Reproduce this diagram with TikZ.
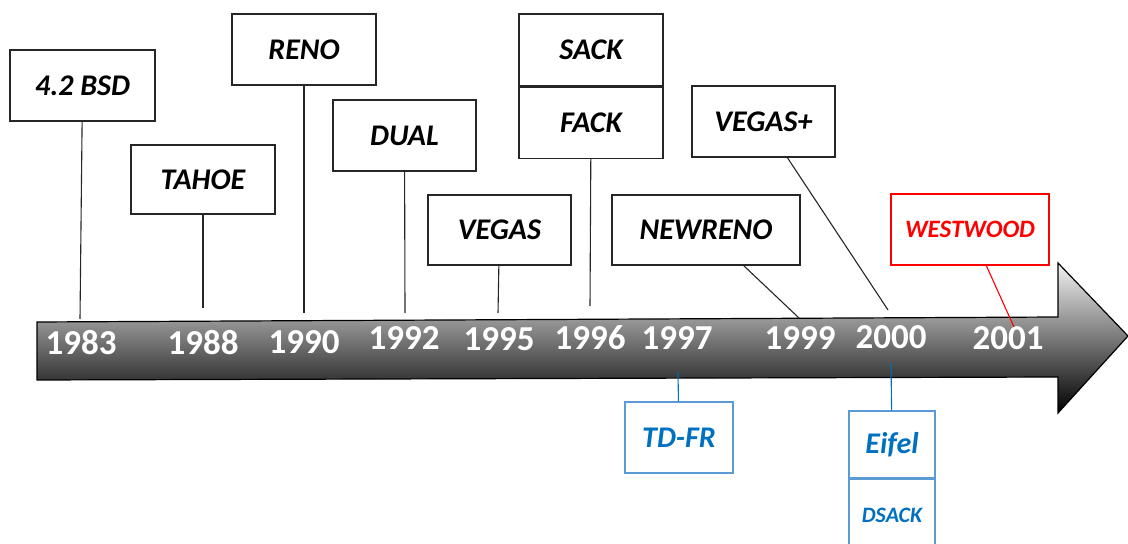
\documentclass[tikz,border=0pt]{standalone}
\usepackage{fontspec}
\setmainfont{Carlito}
\usepackage{tikz}
\usetikzlibrary{positioning}
\definecolor{tcpblue}{HTML}{0070C0}
\definecolor{tcpblueline}{HTML}{5B9BD5}

\begin{document}
\begin{tikzpicture}[x=0.5pt,y=-0.5pt,
  box/.style={draw=black!85,line width=0.6pt,fill=white,inner sep=0pt,
    font=\fontsize{15}{17}\selectfont\bfseries\itshape},
  bluebox/.style={box,draw=tcpblueline,text=tcpblue},
  redbox/.style={box,draw=red,text=red,font=\fontsize{12.5}{14}\selectfont\bfseries\itshape},
  year/.style={text=white,inner sep=0pt,font=\fontsize{17.5}{20}\selectfont\bfseries},
  link/.style={draw=black!85,line width=0.55pt}]
\useasboundingbox (0,0) rectangle (1128,544);
\clip (0,0) rectangle (1128,544);
% the time axis
\shade[top color=gray!10,bottom color=black,draw=black,line width=0.6pt]
 (37,322)--(1058,317)--(1058,263)--(1128,336)--(1058,413)--(1058,377)--(37,380)--cycle;
\node[year] (y83) at (81,343) {1983};
\node[year] (y88) at (203,343) {1988};
\node[year] (y90) at (304,342) {1990};
\node[year] (y92) at (404,338) {1992};
\node[year] (y95) at (499,339) {1995};
\node[year] (y96) at (590,338) {1996};
\node[year] (y97) at (677,338) {1997};
\node[year] (y99) at (800,338) {1999};
\node[year] (y00) at (891,337) {2000};
\node[year] (y01) at (1008,338) {2001};
\coordinate (c83) at (80,319);
\coordinate (c88) at (203,308);
\coordinate (c90) at (304,313);
\coordinate (c92) at (405,313);
\coordinate (c95) at (498,313);
\coordinate (c96) at (590,306);
\coordinate (c97) at (678,372);
\coordinate (c99) at (799,318);
\coordinate (c00) at (888,310);
\coordinate (c00b) at (891,363);
\coordinate (c01) at (1014,327);
% variants above
\node[box,minimum width=72.5pt,minimum height=35.5pt] (bsd) at (82.5,85.5) {4.2 BSD};
\node[box,minimum width=72pt,minimum height=34.5pt] (tahoe) at (203,179.5) {TAHOE};
\node[box,minimum width=72pt,minimum height=35.5pt] (reno) at (304,49.5) {RENO};
\node[box,minimum width=71.5pt,minimum height=35.5pt] (dual) at (404.5,135.5) {DUAL};
\node[box,minimum width=71.5pt,minimum height=35pt] (vegas) at (499.5,230) {VEGAS};
\node[box,minimum width=72pt,minimum height=36pt] (sack) at (591,50) {SACK};
\node[box,minimum width=72pt,minimum height=35.5pt,below=0pt of sack] (fack) {FACK};
\node[box,minimum width=71.5pt,minimum height=35.5pt] (vegasp) at (763.5,121.5) {VEGAS+};
\node[box,minimum width=94pt,minimum height=35pt] (newreno) at (706,230) {NEWRENO};
\node[redbox,minimum width=79pt,minimum height=35.5pt] (westwood) at (970,229.5) {WESTWOOD};
% variants below
\node[bluebox,minimum width=54pt,minimum height=35.5pt] (tdfr) at (679,437.5) {TD-FR};
\node[bluebox,minimum width=43pt,minimum height=33.5pt] (eifel) at (892,444.5) {Eifel};
\node[bluebox,minimum width=43pt,minimum height=36pt,below=0pt of eifel,
  font=\fontsize{11}{13}\selectfont\bfseries\itshape] (dsack) {DSACK};
\draw[link] (bsd) -- (c83);
\draw[link] (tahoe) -- (c88);
\draw[link] (reno) -- (c90);
\draw[link] (dual) -- (c92);
\draw[link] (vegas) -- (c95);
\draw[link] (fack) -- (c96);
\draw[link] (newreno) -- (c99);
\draw[link] (vegasp) -- (c00);
\draw[link,draw=red] (westwood) -- (c01);
\draw[link,draw=tcpblue] (tdfr) -- (c97);
\draw[link,draw=tcpblue] (eifel) -- (c00b);
\end{tikzpicture}
\end{document}
